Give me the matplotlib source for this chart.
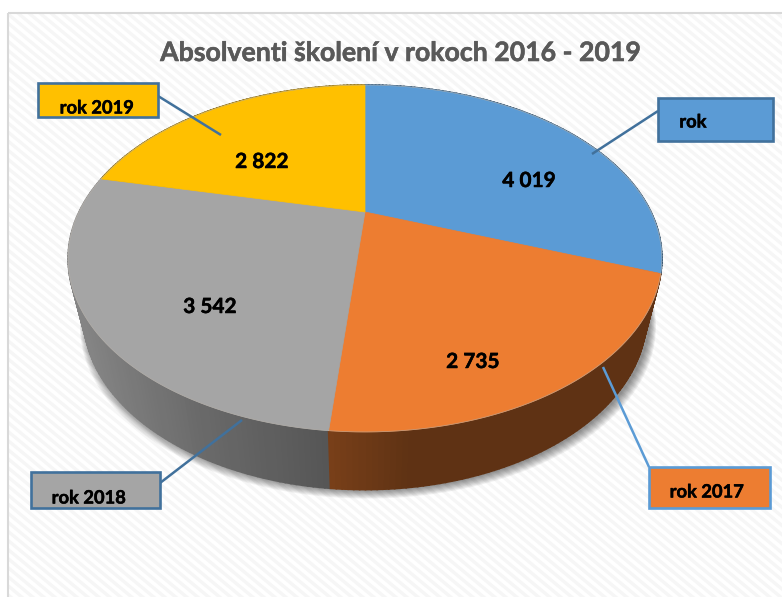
import matplotlib
matplotlib.use("Agg")
import matplotlib.pyplot as plt
from matplotlib.patches import Polygon, Rectangle
import matplotlib.patheffects as pe
import numpy as np

plt.rcParams['font.family'] = ['Lato', 'DejaVu Sans']

title = "Absolventi školení v rokoch 2016 - 2019"
categories = ["rok", "rok 2017", "rok 2018", "rok 2019"]
values = [4019, 2735, 3542, 2822]

colors = ["#5B9BD5", "#ED7D31", "#A5A5A5", "#FFC000"]
box_edges = ["#41719C", "#5B9BD5", "#41719C", "#41719C"]
box_pos = [(658, 98, 115, 43), (649, 467, 121, 41), (31, 472, 129, 36), (38, 83, 120, 34)]
box_text = [(693, 122), (707, 492), (89, 498), (97, 108)]
leaders = [((658, 111), (592, 154)), ((649, 467), (603, 367)),
           ((160, 483), (242, 420)), ((158, 96), (221, 135))]
value_pos = [(529, 181), (473, 362), (210, 307), (262, 162)]

# perspective disc, apex is not the middle of the ellipse
CX = 365
K = 0.268


def disc(theta, cy, a, b):
    x = np.cos(theta)
    y = np.sin(theta)
    w = 1 + K * y
    return CX + a * x / w, cy - b * y / w


def top(theta):
    return disc(theta, 212, 286, 161)


def low(theta):
    return disc(theta, 271, 271, 160)


def side_color(i, x):
    base = np.array(matplotlib.colors.to_rgb(colors[i]))
    if i == 2:
        f = np.interp(x, [84, 200, 330], [0.80, 0.64, 0.52])
    elif i == 1:
        f = np.interp(x, [330, 410], [0.51, 0.40])
    else:
        f = 0.45
    return base * f


fig = plt.figure(figsize=(7.82, 5.97), dpi=100)
ax = fig.add_axes([0, 0, 1, 1])
ax.set_xlim(0, 782)
ax.set_ylim(597, 0)
ax.axis("off")

# panel with the faint diagonal stripes
panel = Rectangle((7.5, 12.5), 780, 590, facecolor="white", edgecolor="none", zorder=1)
ax.add_patch(panel)
for c in np.arange(-900, 800, 11):
    ln, = ax.plot([c, c + 800], [0, 660], color="#f6f6f6", lw=2.4, zorder=1.5)
    ln.set_clip_path(panel)
ax.add_patch(Rectangle((7.5, 12.5), 780, 590, facecolor="none", edgecolor="#d9d9d9", lw=1.5, zorder=1.6))

t = np.linspace(0, 2 * np.pi, 400)

# soft shadow under the disc
for s in range(1, 11):
    sx, sy = low(t)
    sx = CX + (sx - CX) * (1 + s * 0.0024) + 3
    sy = sy + s * 0.9
    ax.add_patch(Polygon(np.column_stack([sx, sy]), closed=True, facecolor="black",
                         edgecolor="none", alpha=0.05, zorder=2))

total = sum(values)
edges = np.pi / 2 - 2 * np.pi * np.cumsum([0] + values) / total

# side wall, far pieces first
quads = []
for i in range(len(values)):
    n = max(int(values[i] / total * 400), 2)
    th = np.linspace(edges[i], edges[i + 1], n + 1)
    for a, b in zip(th[:-1], th[1:]):
        quads.append((-np.sin((a + b) / 2), i, a, b))
quads.sort(key=lambda q: q[0])
for _, i, a, b in quads:
    x1, y1 = top(a)
    x2, y2 = top(b)
    x3, y3 = low(b)
    x4, y4 = low(a)
    c = side_color(i, (x1 + x2) / 2)
    ax.add_patch(Polygon([[x1, y1], [x2, y2], [x3, y3], [x4, y4]], closed=True,
                         facecolor=c, edgecolor=c, lw=1.2, zorder=3))

# top face
for i in range(len(values)):
    th = np.linspace(edges[i], edges[i + 1], 200)
    x, y = top(th)
    pts = np.column_stack([np.r_[CX, x], np.r_[212, y]])
    ax.add_patch(Polygon(pts, closed=True, facecolor=colors[i], edgecolor=colors[i],
                         lw=0.5, zorder=4))
    ax.plot(x, y, color="#b8b2aa", lw=0.6, alpha=0.6, zorder=4.5)

heavy = [pe.withStroke(linewidth=0.35, foreground="black")]
for i, cat in enumerate(categories):
    (x0, y0), (x1, y1) = leaders[i]
    ax.plot([x0, x1], [y0, y1], color=box_edges[i], lw=1.8, zorder=5, solid_capstyle="butt")
    bx, by, bw, bh = box_pos[i]
    ax.add_patch(Rectangle((bx, by), bw, bh, facecolor=colors[i], edgecolor=box_edges[i],
                           lw=1.9, zorder=6))
    ax.text(box_text[i][0], box_text[i][1], cat, ha="center", va="center", fontsize=13.2,
            fontweight="bold", color="black", zorder=7, path_effects=heavy)
    ax.text(value_pos[i][0], value_pos[i][1], f"{values[i]:,}".replace(",", " "), ha="center",
            va="center", fontsize=15, fontweight="bold", color="black", zorder=7, path_effects=heavy)

ax.text(400, 53, title, ha="center", va="center", fontsize=19.2, fontweight="bold",
        color="#595959", zorder=7, path_effects=[pe.withStroke(linewidth=0.4, foreground="#595959")])

fig.savefig("out.png", dpi=100)
